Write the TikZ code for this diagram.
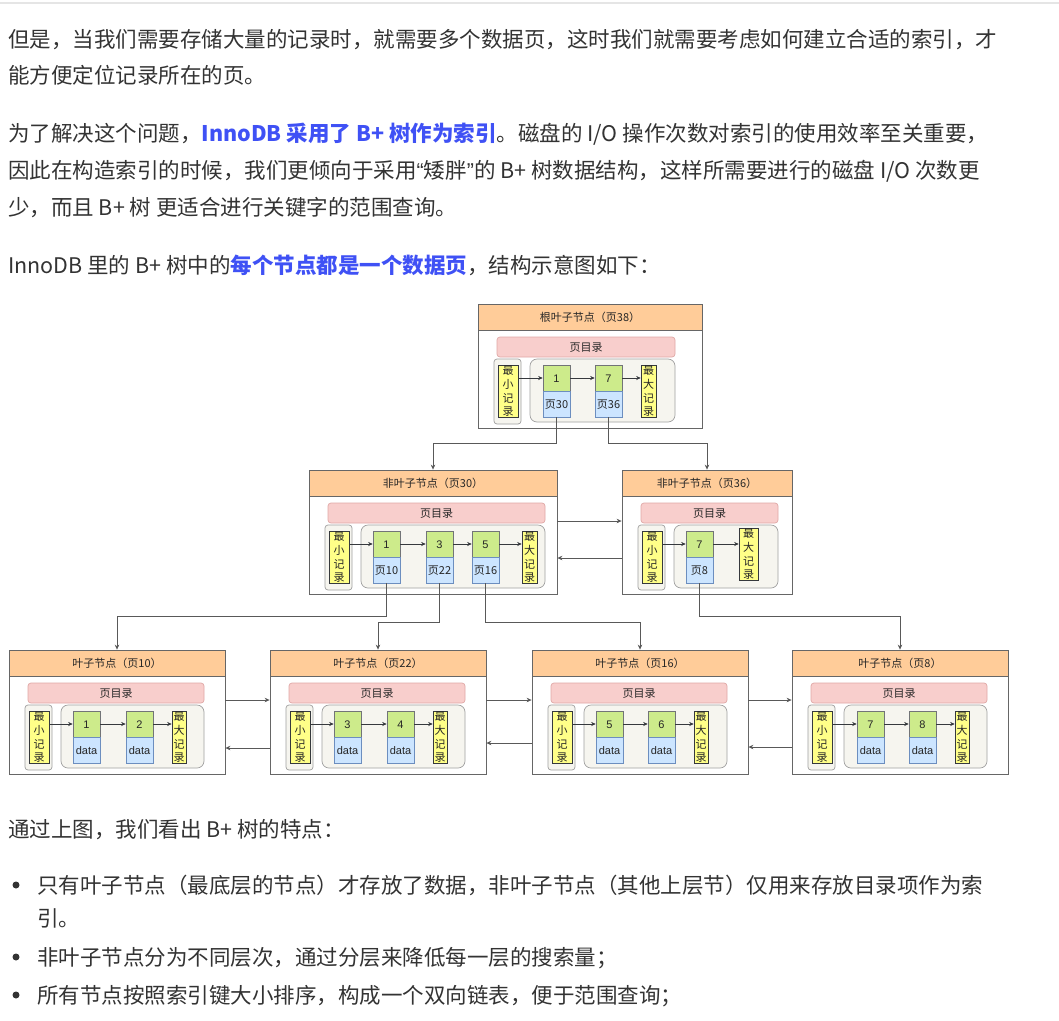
\documentclass[tikz,border=0pt]{standalone}
\usepackage{fontspec}
\setmainfont{Noto Sans CJK SC}
\newfontfamily\arialf{Liberation Sans}
\usetikzlibrary{arrows.meta}
\definecolor{txt}{HTML}{333333}
\definecolor{hl}{HTML}{3F51F5}
\definecolor{hdr}{HTML}{FFCC99}
\definecolor{edge}{HTML}{666666}
\definecolor{dirf}{HTML}{F8CECC}
\definecolor{dird}{HTML}{E0A8A6}
\definecolor{grpf}{HTML}{F6F5EF}
\definecolor{grpd}{HTML}{A0A0A0}
\definecolor{yel}{HTML}{FFFF88}
\definecolor{grn}{HTML}{CDEB8B}
\definecolor{blu}{HTML}{CCE5FF}
\definecolor{blud}{HTML}{6C8EBF}
\definecolor{dk}{HTML}{36393D}
\newcommand\mydfont{\fontsize{11}{13}\selectfont}
\newcommand\mybody{\fontsize{21.5}{30}\selectfont}
\newcommand\vtxt[4]{\vbox{\offinterlineskip\hbox{\smash{#1}}\vskip13.6pt\hbox{\smash{#2}}\vskip13.6pt\hbox{\smash{#3}}\vskip13.6pt\hbox{\smash{#4}}}}
\tikzset{
 onel/.style={text height=9.2pt, text depth=0.9pt, font=\mydfont, text=black!85},
 outerbox/.style={draw=edge, fill=white, line width=0.8pt},
 hdrbox/.style={draw=edge, fill=hdr, line width=0.8pt, onel},
 dirbox/.style={draw=dird, fill=dirf, rounded corners=3pt, line width=0.7pt, onel},
 grpbox/.style={draw=grpd, fill=grpf, rounded corners=7pt, line width=0.7pt},
 minbox/.style={draw=grpd, fill=grpf, rounded corners=3pt, line width=0.7pt},
 yelbox/.style={draw=dk, fill=yel, line width=0.6pt, font=\mydfont, text=black!85, text height=50.4pt, text depth=0.9pt},
 grnbox/.style={draw=dk!70, fill=grn, line width=0.6pt, onel},
 blubox/.style={draw=blud, fill=blu, line width=0.6pt, onel},
 arr/.style={draw=dk, line width=0.6pt, -{Stealth[length=4.5pt,width=4pt]}},
 conn/.style={draw=black!65, line width=0.7pt, -{Stealth[length=5pt,width=4.5pt]}},
 para/.style={anchor=base west, inner sep=0pt, font=\mybody, text=txt},
}
% box from (x1,y1) to (x2,y2)
\newcommand\bx[7]{%
 \pgfmathsetmacro\qW{#5-#3}\pgfmathsetmacro\qH{#6-#4}%
 \pgfmathsetmacro\qX{(#3+#5)/2}\pgfmathsetmacro\qY{(#4+#6)/2}%
 \node[#2, inner sep=0pt, minimum width=\qW pt, minimum height=\qH pt] (#1) at (\qX,\qY) {#7};}
\newcommand\pg[6]{%
 \pgfmathsetmacro\qpR{#2+#4}\pgfmathsetmacro\qpB{#3+124}\pgfmathsetmacro\qpH{#3+26}%
 \pgfmathsetmacro\qdL{#2+19}\pgfmathsetmacro\qdR{#2+#5}\pgfmathsetmacro\qdT{#3+33}\pgfmathsetmacro\qdB{#3+53}%
 \pgfmathsetmacro\qmL{#2+16}\pgfmathsetmacro\qmR{#2+43}\pgfmathsetmacro\qmT{#3+55}\pgfmathsetmacro\qmB{#3+120}%
 \pgfmathsetmacro\qyL{#2+20}\pgfmathsetmacro\qyR{#2+40}\pgfmathsetmacro\qyT{#3+61}\pgfmathsetmacro\qyB{#3+113}%
 \pgfmathsetmacro\qgL{#2+52}\pgfmathsetmacro\qgB{#3+118}%
 \bx{#1}{outerbox}{#2}{#3}{\qpR}{\qpB}{}
 \bx{#1h}{hdrbox}{#2}{#3}{\qpR}{\qpH}{#6}
 \bx{#1d}{dirbox}{\qdL}{\qdT}{\qdR}{\qdB}{页目录}
 \bx{#1m}{minbox}{\qmL}{\qmT}{\qmR}{\qmB}{}
 \bx{#1y}{yelbox}{\qyL}{\qyT}{\qyR}{\qyB}{\vtxt{最}{小}{记}{录}}
 \bx{#1g}{grpbox}{\qgL}{\qmT}{\qdR}{\qgB}{}
}
\newcommand\ent[5]{%
 \pgfmathsetmacro\qeL{#2}\pgfmathsetmacro\qeR{#2+27}\pgfmathsetmacro\qeT{#3+61}\pgfmathsetmacro\qeM{#3+87}\pgfmathsetmacro\qeB{#3+113}%
 \bx{#1g}{grnbox}{\qeL}{\qeT}{\qeR}{\qeM}{#4}
 \bx{#1b}{blubox}{\qeL}{\qeM}{\qeR}{\qeB}{#5}
}
\newcommand\mx[5]{\bx{#1}{yelbox}{#2}{#4}{#3}{#5}{\vtxt{最}{大}{记}{录}}}
\begin{document}
\begin{tikzpicture}[x=1pt,y=-1pt]
\useasboundingbox (0,0) rectangle (1059,1020);
\fill[white] (0,0) rectangle (1059,1020);
\draw[black!10, line width=1.5pt] (0,3) -- (1059,3);

% ---- text above
\node[para] (t1) at (8,47.5) {但是，当我们需要存储大量的记录时，就需要多个数据页，这时我们就需要考虑如何建立合适的索引，才};
\node[para] (t2) at (8,83) {能方便定位记录所在的页。};
\node[para] (t3) at (8,141) {为了解决这个问题，{\bfseries\color{hl}InnoDB 采用了 B+ 树作为索引}。磁盘的 I/O 操作次数对索引的使用效率至关重要，};
\node[para] (t4) at (8,178) {因此在构造索引的时候，我们更倾向于采用{\arialf “}矮胖{\arialf ”}的 B+ 树数据结构，这样所需要进行的磁盘 I/O 次数更};
\node[para] (t5) at (8,215) {少，而且 B+ 树 更适合进行关键字的范围查询。};
\node[para] (t6) at (8,273) {InnoDB 里的 B+ 树中的{\bfseries\color{hl}每个节点都是一个数据页}，结构示意图如下：};

% ---- root
\pg{r}{478}{304}{224}{197}{根叶子节点（页38）}
\ent{re1}{543}{304}{{\arialf 1}}{页30}
\ent{re2}{595}{304}{{\arialf 7}}{页36}
\mx{rx}{641}{656}{365}{417}
\draw[arr] (ry.east |- re1g.west) -- (re1g.west);
\draw[arr] (re1g.east) -- (re2g.west);
\draw[arr] (re2g.east) -- (rx.west |- re2g.east);

% ---- level 2
\pg{a}{309}{470}{248}{236}{非叶子节点（页30）}
\ent{ae1}{373}{470}{{\arialf 1}}{页10}
\ent{ae2}{426}{470}{{\arialf 3}}{页22}
\ent{ae3}{472}{470}{{\arialf 5}}{页16}
\mx{ax}{522}{537}{531}{583}
\draw[arr] (ay.east |- ae1g.west) -- (ae1g.west);
\draw[arr] (ae1g.east) -- (ae2g.west);
\draw[arr] (ae2g.east) -- (ae3g.west);
\draw[arr] (ae3g.east) -- (ax.west |- ae3g.east);

\pg{b}{622}{470}{170}{156}{非叶子节点（页36）}
\ent{be1}{686}{470}{{\arialf 7}}{页8}
\mx{bx}{739}{758}{528}{580}
\draw[arr] (by.east |- be1g.west) -- (be1g.west);
\draw[arr] (be1g.east) -- (bx.west |- be1g.east);

% ---- leaves
\pg{l1}{9}{650}{216}{195}{叶子节点（页10）}
\ent{l1e1}{73}{650}{{\arialf 1}}{{\arialf data}}
\ent{l1e2}{126}{650}{{\arialf 2}}{{\arialf data}}
\mx{l1x}{172}{186}{711}{763}
\pg{l2}{270}{650}{216}{195}{叶子节点（页22）}
\ent{l2e1}{334}{650}{{\arialf 3}}{{\arialf data}}
\ent{l2e2}{387}{650}{{\arialf 4}}{{\arialf data}}
\mx{l2x}{433}{447}{711}{763}
\pg{l3}{532}{650}{216}{195}{叶子节点（页16）}
\ent{l3e1}{596}{650}{{\arialf 5}}{{\arialf data}}
\ent{l3e2}{648}{650}{{\arialf 6}}{{\arialf data}}
\mx{l3x}{694}{708}{711}{763}
\pg{l4}{792}{650}{216}{195}{叶子节点（页8）}
\ent{l4e1}{857}{650}{{\arialf 7}}{{\arialf data}}
\ent{l4e2}{909}{650}{{\arialf 8}}{{\arialf data}}
\mx{l4x}{955}{969}{711}{763}
\foreach \p in {l1,l2,l3,l4}{
 \draw[arr] (\p y.east |- \p e1g.west) -- (\p e1g.west);
 \draw[arr] (\p e1g.east) -- (\p e2g.west);
 \draw[arr] (\p e2g.east) -- (\p x.west |- \p e2g.east);
}

% ---- connectors
\coordinate (h1) at (0,443);
\coordinate (h2) at (0,616);
\coordinate (h3) at (0,622);
\draw[conn] (re1b.south) -- (re1b.south |- h1) -- (a.north |- h1) -- (a.north);
\draw[conn] (re2b.south) -- (re2b.south |- h1) -- (b.north |- h1) -- (b.north);
\draw[conn] (ae1b.south) -- (ae1b.south |- h2) -- (l1.north |- h2) -- (l1.north);
\draw[conn] (ae2b.south) -- (ae2b.south |- h3) -- (l2.north |- h3) -- (l2.north);
\draw[conn] (ae3b.south) -- (ae3b.south |- h3) -- (l3.north |- h3) -- (l3.north);
\draw[conn] (be1b.south) -- (be1b.south |- h2) -- (l4.north |- h2) -- (l4.north);

\coordinate (s1) at (0,521);
\coordinate (s2) at (0,558);
\draw[conn] (a.east |- s1) -- (b.west |- s1);
\draw[conn] (b.west |- s2) -- (a.east |- s2);
\coordinate (u1) at (0,700);
\coordinate (v1) at (0,748);
\coordinate (v2) at (0,743);
\coordinate (v3) at (0,747);
\draw[conn] (l1.east |- u1) -- (l2.west |- u1);
\draw[conn] (l2.east |- u1) -- (l3.west |- u1);
\draw[conn] (l3.east |- u1) -- (l4.west |- u1);
\draw[conn] (l2.west |- v1) -- (l1.east |- v1);
\draw[conn] (l3.west |- v2) -- (l2.east |- v2);
\draw[conn] (l4.west |- v3) -- (l3.east |- v3);

% ---- text below
\node[para] (t7) at (8,837) {通过上图，我们看出 B+ 树的特点：};
\fill[txt] (16,885) circle (3.5);
\node[para] (b1) at (37,893) {只有叶子节点（最底层的节点）才存放了数据，非叶子节点（其他上层节）仅用来存放目录项作为索};
\node[para] (b1b) at (37,926) {引。};
\fill[txt] (16,957) circle (3.5);
\node[para] (b2) at (37,965) {非叶子节点分为不同层次，通过分层来降低每一层的搜索量；};
\fill[txt] (16,995) circle (3.5);
\node[para] (b3) at (37,1003) {所有节点按照索引键大小排序，构成一个双向链表，便于范围查询；};
\end{tikzpicture}
\end{document}
